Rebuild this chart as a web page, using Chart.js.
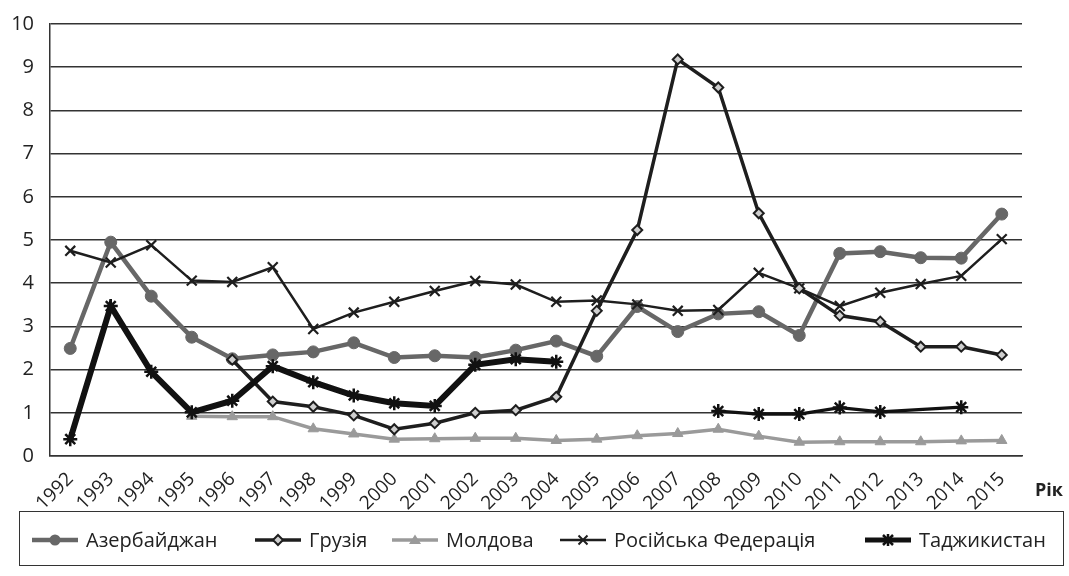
<!DOCTYPE html>
<html>
<head>
<meta charset="utf-8">
<script src="https://cdn.jsdelivr.net/npm/chart.js@4.4.1/dist/chart.umd.min.js"></script>
<style>
  html, body { margin: 0; padding: 0; background: #fff; }
  #wrap { position: relative; width: 1069px; height: 576px; overflow: hidden; }
  #chartBox { position: absolute; left: 0; top: 0; width: 1069px; height: 576px; }
  #xTitle { position: absolute; left: 1035px; top: 477px; font: bold 18px "Open Sans", sans-serif; color: #222; }
  #legend { position: absolute; left: 19px; top: 511px; width: 1045px; height: 55px; border: 1.5px solid #333; box-sizing: border-box; font: 20px "Open Sans", sans-serif; color: #222; }
  .item { position: absolute; top: 2px; height: 51px; display: flex; align-items: center; white-space: nowrap; }
  .item svg { margin-right: 8px; }
</style>
</head>
<body>
<div id="wrap">
  <div id="chartBox"><canvas id="c"></canvas></div>
  <div id="xTitle">Рік</div>
  <div id="legend"></div>
</div>
<script>
const years = ["1992","1993","1994","1995","1996","1997","1998","1999","2000","2001","2002","2003","2004","2005","2006","2007","2008","2009","2010","2011","2012","2013","2014","2015"];
const yTicks = [0,1,2,3,4,5,6,7,8,9,10];
const azerbaijan = [2.49,4.95,3.70,2.75,2.25,2.34,2.41,2.62,2.28,2.32,2.28,2.45,2.66,2.31,3.46,2.88,3.29,3.34,2.79,4.69,4.73,4.59,4.58,5.60];
const georgia = [null,null,null,null,2.23,1.26,1.14,0.94,0.62,0.76,1.00,1.06,1.37,3.36,5.23,9.18,8.53,5.62,3.88,3.25,3.11,2.53,2.53,2.34];
const moldova = [null,null,null,0.92,0.91,0.91,0.63,0.51,0.39,0.40,0.41,0.41,0.36,0.39,0.47,0.52,0.62,0.46,0.32,0.33,0.33,0.33,0.35,0.36];
const russia = [4.75,4.48,4.88,4.06,4.03,4.37,2.94,3.32,3.57,3.82,4.05,3.97,3.57,3.60,3.51,3.36,3.38,4.24,3.88,3.47,3.78,3.98,4.17,5.02];
const tajikistan = [0.39,3.47,1.95,1.01,1.28,2.08,1.71,1.40,1.22,1.16,2.11,2.24,2.18,null,null,null,1.04,0.97,0.97,1.12,1.02,null,1.13,null];
const seriesNames = ["Азербайджан","Грузія","Молдова","Російська Федерація","Таджикистан"];

const dark = '#1e1e1e';
const datasets = [
  { label: seriesNames[0], data: azerbaijan, borderColor: '#676767', backgroundColor: '#676767', borderWidth: 4.5,
    pointStyle: 'circle', pointRadius: 6, pointBorderWidth: 1, pointBackgroundColor: '#676767', pointBorderColor: '#676767', order: 3 },
  { label: seriesNames[1], data: georgia, borderColor: dark, backgroundColor: dark, borderWidth: 3.5,
    pointStyle: 'rectRot', pointRadius: 5, pointBorderWidth: 2, pointBackgroundColor: '#cfcfcf', pointBorderColor: dark, order: 1 },
  { label: seriesNames[2], data: moldova, borderColor: '#9a9a9a', backgroundColor: '#9a9a9a', borderWidth: 3.5,
    pointStyle: 'triangle', pointRadius: 6, pointBorderWidth: 1, pointBackgroundColor: '#9a9a9a', pointBorderColor: '#9a9a9a', order: 4 },
  { label: seriesNames[3], data: russia, borderColor: dark, backgroundColor: dark, borderWidth: 2.5,
    pointStyle: 'crossRot', pointRadius: 7, pointBorderWidth: 2.2, pointBorderColor: dark, order: 2 },
  { label: seriesNames[4], data: tajikistan, borderColor: '#111', backgroundColor: '#111', borderWidth: 6,
    pointStyle: 'star', pointRadius: 7, pointBorderWidth: 2.5, pointBorderColor: '#111', order: 0,
    spanGaps: true,
    segment: {
      borderColor: ctx => (ctx.p1DataIndex >= 13 && ctx.p1DataIndex <= 16) ? 'rgba(0,0,0,0)' : undefined,
      borderWidth: ctx => ctx.p1DataIndex >= 17 ? 3.2 : undefined
    } }
];
datasets.forEach(d => { d.fill = false; d.tension = 0; d.pointHoverRadius = d.pointRadius; });

new Chart(document.getElementById('c'), {
  type: 'line',
  data: { labels: years, datasets },
  options: {
    responsive: true, maintainAspectRatio: false, animation: false,
    layout: { padding: { top: 24, left: 0, right: 47, bottom: 0 } },
    plugins: { legend: { display: false }, tooltip: { enabled: false } },
    scales: {
      x: {
        offset: true,
        grid: { display: false, drawTicks: false },
        border: { display: true, color: '#333', width: 1.5 },
        ticks: { minRotation: 45, maxRotation: 45, autoSkip: false, padding: 12, color: '#222',
                 font: { family: 'Open Sans', size: 19 } },
        afterFit: s => { s.height = 120; }
      },
      y: {
        min: 0, max: 10,
        afterBuildTicks: s => { s.ticks = yTicks.map(v => ({ value: v })); },
        grid: { color: '#333', lineWidth: 1.5, drawTicks: false },
        border: { display: true, color: '#333', width: 1.5 },
        ticks: { padding: 16, color: '#222', font: { family: 'Open Sans', size: 20 } },
        afterFit: s => { s.width = 50; s.paddingTop = 12; s.paddingBottom = 12; }
      }
    }
  }
});

// HTML legend with line+marker symbols
const legendDefs = [
  { left: 12, color: '#676767', w: 4.5, marker: '<circle cx="23" cy="8" r="5.5" fill="#676767"/>' },
  { left: 235, color: dark, w: 3.5, marker: '<path d="M23 3 L28 8 L23 13 L18 8 Z" fill="#cfcfcf" stroke="#1e1e1e" stroke-width="2"/>' },
  { left: 372, color: '#9a9a9a', w: 3.5, marker: '<path d="M23 2.5 L29 12 L17 12 Z" fill="#9a9a9a"/>' },
  { left: 540, color: dark, w: 2.5, marker: '<path d="M18.5 3.5 L27.5 12.5 M27.5 3.5 L18.5 12.5" stroke="#1e1e1e" stroke-width="2"/>' },
  { left: 845, color: '#111', w: 5, marker: '<path d="M18 3 L28 13 M28 3 L18 13 M23 2 L23 14" stroke="#111" stroke-width="2.5"/>' }
];
const legendEl = document.getElementById('legend');
legendDefs.forEach((d, i) => {
  const item = document.createElement('div');
  item.className = 'item';
  item.style.left = d.left + 'px';
  item.innerHTML = '<svg width="46" height="16" viewBox="0 0 46 16"><line x1="0" y1="8" x2="46" y2="8" stroke="' + d.color + '" stroke-width="' + d.w + '"/>' + d.marker + '</svg>';
  const t = document.createElement('span');
  t.textContent = seriesNames[i];
  item.appendChild(t);
  legendEl.appendChild(item);
});
</script>
</body>
</html>
